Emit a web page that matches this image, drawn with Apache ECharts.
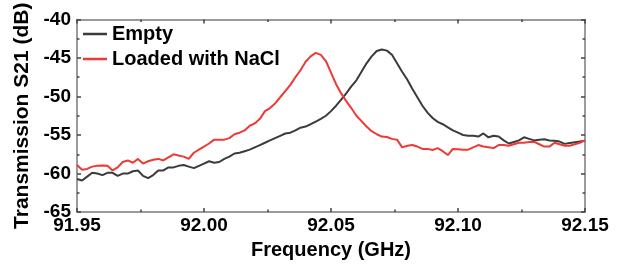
<!DOCTYPE html>
<html lang="en">
<head>
    <meta charset="UTF-8" />
    <title>Transmission S21</title>
    <style>
        html, body {
            margin: 0;
            padding: 0;
            background: #fff;
        }

        #chart {
            width: 624px;
            height: 265px;
        }
    </style>
</head>
<body>
    <div id="chart"></div>
</body>
<script type="text/javascript" src="https://cdn.jsdelivr.net/npm/echarts@6/dist/echarts.min.js"></script>
<script type="text/javascript">

    // frequency (GHz)
    var freq = [
        91.950, 91.952, 91.954, 91.956, 91.958, 91.960, 91.962, 91.964, 91.966, 91.968,
        91.970, 91.972, 91.974, 91.976, 91.978, 91.980, 91.982, 91.984, 91.986, 91.988,
        91.990, 91.992, 91.994, 91.996, 91.998, 92.000, 92.002, 92.004, 92.006, 92.008,
        92.010, 92.012, 92.014, 92.016, 92.018, 92.020, 92.022, 92.024, 92.026, 92.028,
        92.030, 92.032, 92.034, 92.036, 92.038, 92.040, 92.042, 92.044, 92.046, 92.048,
        92.050, 92.052, 92.054, 92.056, 92.058, 92.060, 92.062, 92.064, 92.066, 92.068,
        92.070, 92.072, 92.074, 92.076, 92.078, 92.080, 92.082, 92.084, 92.086, 92.088,
        92.090, 92.092, 92.094, 92.096, 92.098, 92.100, 92.102, 92.104, 92.106, 92.108,
        92.110, 92.112, 92.114, 92.116, 92.118, 92.120, 92.122, 92.124, 92.126, 92.128,
        92.130, 92.132, 92.134, 92.136, 92.138, 92.140, 92.142, 92.144, 92.146, 92.148,
        92.150
    ];

    // S21 (dB), empty resonator
    var emptyS21 = [
        -60.7, -60.9, -60.4, -59.9, -60.0, -60.2, -59.9, -59.9, -60.3, -60.0,
        -60.0, -59.7, -59.6, -60.3, -60.6, -60.2, -59.6, -59.6, -59.2, -59.2,
        -59.0, -58.9, -59.1, -59.3, -59.0, -58.7, -58.4, -58.6, -58.5, -58.1,
        -57.8, -57.4, -57.3, -57.1, -56.9, -56.6, -56.3, -56.0, -55.7, -55.4,
        -55.1, -54.8, -54.7, -54.4, -54.05, -53.9, -53.6, -53.25, -52.9, -52.5,
        -51.9, -51.2, -50.4, -49.6, -48.7, -47.9, -46.8, -45.7, -44.8, -44.1,
        -43.9, -44.05, -44.6, -45.7, -46.8, -47.8, -49.0, -50.1, -51.2, -52.1,
        -52.8, -53.3, -53.6, -54.0, -54.4, -54.7, -55.0, -55.1, -55.1, -55.2,
        -54.8, -55.3, -55.1, -55.2, -55.7, -56.1, -55.9, -55.7, -55.3, -55.5,
        -55.7, -55.6, -55.55, -55.7, -55.75, -55.85, -56.15, -56.05, -55.95, -55.85,
        -55.75
    ];

    // S21 (dB), loaded with NaCl
    var naclS21 = [
        -58.9, -59.5, -59.4, -59.1, -59.0, -58.95, -59.0, -59.6, -59.2, -58.5,
        -58.3, -58.6, -58.1, -58.7, -58.4, -58.2, -58.1, -58.3, -57.9, -57.5,
        -57.65, -57.8, -58.1, -57.3, -56.9, -56.5, -56.1, -55.6, -55.6, -55.6,
        -55.4, -54.9, -54.7, -54.4, -53.8, -53.5, -52.9, -51.9, -51.5, -50.9,
        -50.1, -49.3, -48.5, -47.5, -46.6, -45.5, -44.8, -44.35, -44.6, -45.4,
        -46.9, -48.4, -49.6, -50.6, -51.5, -52.5, -53.2, -53.9, -54.5, -54.9,
        -55.2, -55.25, -55.5, -55.6, -56.6, -56.4, -56.3, -56.5, -56.8, -56.8,
        -56.95, -56.7, -57.1, -57.6, -56.8, -56.85, -56.9, -56.9, -56.6, -56.3,
        -56.5, -56.6, -56.7, -56.3, -56.3, -56.4, -56.2, -56.0, -56.0, -55.9,
        -55.9, -56.2, -56.5, -56.5, -56.0, -56.2, -56.4, -56.4, -56.2, -56.0,
        -55.7
    ];

    var seriesNames = ['Empty', 'Loaded with NaCl'];
    var seriesColors = ['#3b3b3b', '#ee3a36'];

    function pairs(ys) {
        return freq.map(function (f, i) { return [f, ys[i]]; });
    }

    var font = 'Arial, "Liberation Sans", sans-serif';
    var axisGray = '#7a7a7a';

    var myChart = echarts.init(document.getElementById('chart'));

    var tickCommon = {
        axisLine: { show: true, lineStyle: { color: axisGray, width: 1.5 } },
        axisTick: { show: true, inside: true, length: 4, lineStyle: { color: '#444', width: 1.5 } },
        minorTick: { show: true, splitNumber: 2, length: 2.5, lineStyle: { color: '#444', width: 1.5 } },
        splitLine: { show: false }
    };

    var option = {
        animation: false,
        grid: { left: 77, right: 39, top: 16, bottom: 52 },
        legend: {
            orient: 'vertical',
            left: 78,
            top: 19,
            icon: 'rect',
            itemWidth: 24,
            itemHeight: 2.5,
            itemGap: 5,
            data: seriesNames,
            textStyle: { fontFamily: font, fontWeight: 'bold', fontSize: 20, lineHeight: 20, color: '#000' }
        },
        xAxis: [
            Object.assign({
                type: 'value',
                min: 91.95,
                max: 92.15,
                interval: 0.05,
                name: 'Frequency (GHz)',
                nameLocation: 'middle',
                nameGap: 25,
                nameTextStyle: { fontFamily: font, fontWeight: 'bold', fontSize: 20, color: '#000' },
                axisLabel: {
                    margin: 4,
                    fontFamily: font, fontWeight: 'bold', fontSize: 19, color: '#000',
                    formatter: function (v) { return v.toFixed(2); }
                }
            }, tickCommon),
            Object.assign({
                type: 'value',
                position: 'top',
                min: 91.95,
                max: 92.15,
                interval: 0.05,
                axisLabel: { show: false }
            }, tickCommon)
        ],
        yAxis: [
            Object.assign({
                type: 'value',
                min: -65,
                max: -40,
                interval: 5,
                name: 'Transmission S21 (dB)',
                nameLocation: 'middle',
                nameGap: 36,
                nameTextStyle: { fontFamily: font, fontWeight: 'bold', fontSize: 21, color: '#000' },
                axisLabel: {
                    margin: 6,
                    fontFamily: font, fontWeight: 'bold', fontSize: 19, color: '#000'
                }
            }, tickCommon),
            Object.assign({
                type: 'value',
                position: 'right',
                min: -65,
                max: -40,
                interval: 5,
                axisLabel: { show: false }
            }, tickCommon)
        ],
        series: [
            {
                name: seriesNames[0],
                type: 'line',
                data: pairs(emptyS21),
                symbol: 'none',
                color: seriesColors[0],
                lineStyle: { color: seriesColors[0], width: 2 },
                z: 2
            },
            {
                name: seriesNames[1],
                type: 'line',
                data: pairs(naclS21),
                symbol: 'none',
                color: seriesColors[1],
                lineStyle: { color: seriesColors[1], width: 2 },
                z: 3
            }
        ]
    };

    myChart.setOption(option);
    window.onresize = function () {
        myChart.resize();
    };
</script>
</html>
